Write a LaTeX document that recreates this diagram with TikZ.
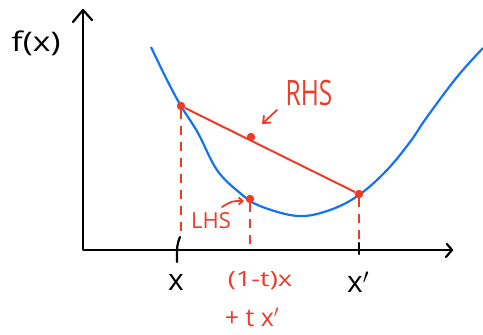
\documentclass[tikz,border=0pt]{standalone}
\usepackage{graphicx}
\usepackage{fontspec}
\setmainfont{Open Sans}
\usetikzlibrary{arrows.meta}
\definecolor{cblue}{RGB}{20,115,240}
\definecolor{cred}{RGB}{235,60,40}
\begin{document}
\begin{tikzpicture}[x=1pt,y=-1pt,
  axis/.style={line width=2.2pt,black,line cap=round,line join=round},
  curve/.style={line width=2.2pt,cblue},
  chord/.style={line width=2pt,cred},
  dropline/.style={line width=2pt,cred,dash pattern=on 9pt off 7pt},
  dotpt/.style={circle,fill=cred,inner sep=0pt,minimum size=8.5pt},
  blk/.style={text=black,inner sep=0pt},
  lbl/.style={text=cred,inner sep=0pt},
  pointer/.style={line width=1.8pt,cred,line cap=round,-{Straight Barb[length=6pt,width=10pt]}}]
\useasboundingbox (0,0) rectangle (483,335);
% axes
\coordinate (O) at (83,250);
\coordinate (Ytop) at (83,10);
\coordinate (Xend) at (452,250);
\draw[axis] (Ytop) -- (O) -- (Xend);
\draw[axis] (73,22) -- (Ytop) -- (92,20);
\draw[axis] (447,244) -- (Xend) -- (446,257);
% curve
\draw[curve] plot[smooth,tension=0.6] coordinates {(151,47) (167,80) (181,106) (198,133) (217,170) (240,193) (260,206) (298,216) (330,210) (359,195) (387,170) (410,142) (427,117) (457,77) (483,48)};
% points
\node[dotpt] (A) at (181,106) {};
\node[dotpt] (B) at (359,194) {};
\node[dotpt] (M) at (251,137) {};
\node[dotpt] (L) at (250,199) {};
\draw[chord] (A) -- (B);
% drop lines and ticks
\coordinate (Ax) at (181,237);
\coordinate (Bx) at (359,250);
\coordinate (Lx) at (250,250);
\draw[dropline] (A) -- (Ax);
\draw[dropline] (L) -- (Lx);
\draw[dropline] (B) -- (Bx);
\draw[axis] (180,237) .. controls (177,245) .. (177,262);
\draw[axis] (359,243) -- (359,254);
% labels
\node[blk,font=\fontsize{27}{30}\selectfont] (fx) at (36,43) {\scalebox{1.25}[1]{f(x)}};
\node[blk,font=\fontsize{30}{32}\selectfont] (xl) at (176,282) {x};
\node[blk,font=\fontsize{30}{32}\selectfont] (xpl) at (358,282) {x$'$};
\node[lbl,font=\fontsize{21}{24}\selectfont] (t1) at (260,281) {\scalebox{1.3}[1]{(1-t)x}};
\node[lbl,font=\fontsize{25}{28}\selectfont] (t2) at (252,317) {+ t x$'$};
\node[lbl,font=\fontsize{35}{38}\selectfont] (rhs) at (309,93) {\scalebox{0.7}[1]{RHS}};
\node[lbl,font=\fontsize{22}{24}\selectfont] (lhs) at (211,221) {LHS};
\coordinate (rp1) at (277,110);
\coordinate (rp2) at (262,124);
\draw[pointer] (rp1) -- (rp2);
\coordinate (lp1) at (222,207);
\coordinate (lp2) at (244,201);
\draw[pointer,-{Straight Barb[length=4pt,width=7pt]}] (lp1) .. controls (232,201) .. (lp2);
\end{tikzpicture}
\end{document}
